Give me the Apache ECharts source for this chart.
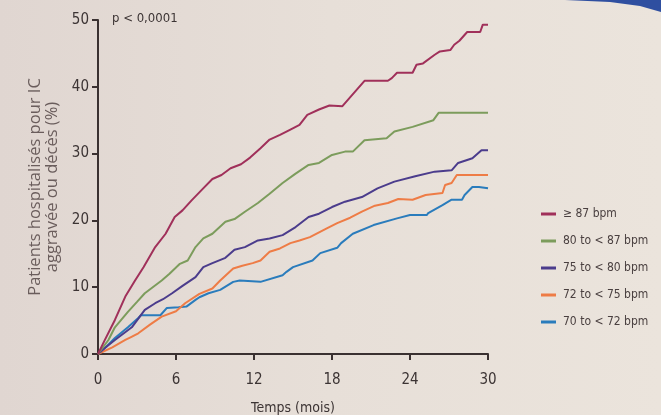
<!DOCTYPE html>
<html><head><meta charset="utf-8">
<script src="https://cdn.jsdelivr.net/npm/echarts@6/dist/echarts.min.js"></script>
<style>
html,body{margin:0;padding:0;}
body{background:linear-gradient(90deg,#e0d6d1 0%,#e7dfd8 50%,#ebe4dc 100%);}
#c{width:661px;height:415px;}
</style></head><body><div id="c"></div>
<script>
var seriesNames = ['\u2265 87 bpm','80 to < 87 bpm','75 to < 80 bpm','72 to < 75 bpm','70 to < 72 bpm'];
var seriesColors = ['#a0305a','#7c9c5c','#4b3c8c','#ee7c46','#2a7cbc'];
var xTicks = [0,6,12,18,24,30];
var yTicks = [0,10,20,30,40,50];

var redMonths = [0,0.5,1.3,2.1,2.85,3.5,4.4,5.2,5.9,6.5,7.2,8,8.8,9.5,10.2,11,11.7,12.5,13.2,14,14.8,15.5,16.1,17,17.8,18.8,20.5,22.3,22.6,23,24.2,24.5,25,25.9,26.3,27.1,27.4,27.8,28.4,29.4,29.6,30];
var redValues = [0,2,5.1,8.6,11,13,16,18,20.5,21.5,23,24.6,26.2,26.8,27.8,28.4,29.4,30.8,32.1,32.8,33.6,34.3,35.8,36.6,37.2,37.1,40.9,40.9,41.3,42.1,42.1,43.3,43.5,44.8,45.3,45.5,46.3,46.9,48.2,48.2,49.3,49.3];

var greenMonths = [0,0.8,1.3,2.3,3,3.6,4.9,5.5,6.3,6.9,7.5,8.1,8.8,9.8,10.5,11.3,12.3,13.2,14.2,15.2,16.2,17,18,19,19.6,20.5,22.2,22.8,24.2,25.8,26.2,30];
var greenValues = [0,2.1,4,6.3,7.8,9.1,11,12,13.5,14,16,17.3,18,19.8,20.2,21.3,22.6,24,25.6,27,28.3,28.6,29.8,30.3,30.3,32,32.3,33.3,34,35,36.1,36.1];

var purpleMonths = [0,0.6,1.3,2.6,3.6,4.4,5,5.7,6.5,7.5,8.1,8.8,9.8,10.5,11.3,12.3,13.2,14.2,15.2,16.2,17,18,19,20.3,21.5,22.8,24.4,25.9,27.2,27.7,28.8,29.5,30];
var purpleValues = [0,1,2.1,4,6.6,7.6,8.2,9.1,10.2,11.5,13,13.6,14.4,15.6,16,17,17.3,17.8,19,20.5,21,22,22.8,23.5,24.8,25.8,26.6,27.3,27.5,28.6,29.3,30.5,30.5];

var orangeMonths = [0,1.1,2.1,2.5,3.1,4,4.9,6,6.7,7.8,8.8,9.4,10.4,11.1,11.9,12.5,13.2,14,14.8,15.5,16.3,17.6,18.4,19.4,20.3,21.3,22.3,23.1,24.2,25.2,26.5,26.7,27.2,27.6,30];
var orangeValues = [0,1,2.1,2.5,3.1,4.4,5.6,6.4,7.6,9,9.8,11,12.8,13.2,13.6,14,15.3,15.8,16.6,17,17.5,18.8,19.6,20.4,21.3,22.2,22.6,23.2,23.1,23.8,24.1,25.3,25.6,26.8,26.8];

var blueMonths = [0,0.6,1.3,2.3,3.1,3.3,4.8,5.3,6.2,6.8,7.5,7.8,8.5,9.4,10.4,10.9,12.5,14.2,14.5,15,16.5,17.1,18.4,18.7,19.6,21.2,23,24,25.3,25.4,26.5,27.2,28,28.2,28.8,29.3,30];
var blueValues = [0,1,2.4,4,5.4,5.8,5.8,6.9,7,7.1,8.1,8.5,9.1,9.6,10.8,11,10.8,11.8,12.3,13,14,15.1,15.9,16.6,18,19.3,20.3,20.8,20.8,21.1,22.3,23.1,23.1,23.8,25,25,24.8];

var allMonths = [redMonths, greenMonths, purpleMonths, orangeMonths, blueMonths];
var allValues = [redValues, greenValues, purpleValues, orangeValues, blueValues];

function pairs(m, v){ return m.map(function(x,i){ return [x, v[i]]; }); }

var chart = echarts.init(document.getElementById('c'));
var cond = '"DejaVu Sans Condensed", "Liberation Sans Narrow", sans-serif';
var series = seriesNames.map(function(n,i){
  return {
    name: n, type: 'line', data: pairs(allMonths[i], allValues[i]),
    showSymbol: false, symbol: 'none', smooth: false,
    lineStyle: {color: seriesColors[i], width: 2},
    itemStyle: {color: seriesColors[i]},
    animation: false, z: 5 - i
  };
});
chart.setOption({
  animation: false,
  backgroundColor: 'transparent',
  grid: {left: 98, right: 173, top: 20, bottom: 61, containLabel: false, outerBoundsMode: 'none'},
  xAxis: {
    type: 'value', min: 0, max: 30, interval: 6,
    name: 'Temps (mois)', nameLocation: 'middle', nameGap: 47,
    nameTextStyle: {fontFamily: cond, fontSize: 14, color: '#3c3434'},
    axisLine: {lineStyle: {color: '#3a3131', width: 2}},
    axisTick: {show: true, length: 6, lineStyle: {color: '#3a3131', width: 2}},
    axisLabel: {fontFamily: cond, fontSize: 15, color: '#3c3434', margin: 19,
      formatter: function(v){ return xTicks.indexOf(v) >= 0 ? String(v) : ''; }},
    splitLine: {show: false}
  },
  yAxis: {
    type: 'value', min: 0, max: 50, interval: 10,
    name: 'Patients hospitalisés pour IC\naggravée ou décès (%)',
    nameLocation: 'middle', nameRotate: 90, nameGap: 34,
    nameTextStyle: {fontFamily: '"Open Sans", sans-serif', fontSize: 16.5, color: '#6a5d5c', lineHeight: 17},
    axisLine: {show: true, lineStyle: {color: '#3a3131', width: 2}},
    axisTick: {show: true, length: 6, lineStyle: {color: '#3a3131', width: 2}},
    axisLabel: {fontFamily: cond, fontSize: 15, color: '#3c3434', margin: 9,
      formatter: function(v){ return yTicks.indexOf(v) >= 0 ? String(v) : ''; }},
    splitLine: {show: false}
  },
  legend: {
    orient: 'vertical', left: 536, top: 203, itemGap: 15,
    icon: 'rect', itemWidth: 15, itemHeight: 3,
    textStyle: {fontFamily: cond, fontSize: 12, color: '#4a4040', padding: [0,0,0,2]},
    data: seriesNames
  },
  graphic: [
    {type: 'text', left: 112, top: 12, style: {text: 'p < 0,0001', fontSize: 13, fontFamily: cond, fill: '#3c3434'}},
    {type: 'polygon', shape: {points: [[565,0],[661,0],[661,12],[640,6],[610,2]]}, style: {fill: '#2f4fa0'}, silent: true}
  ],
  series: series
});
</script></body></html>
